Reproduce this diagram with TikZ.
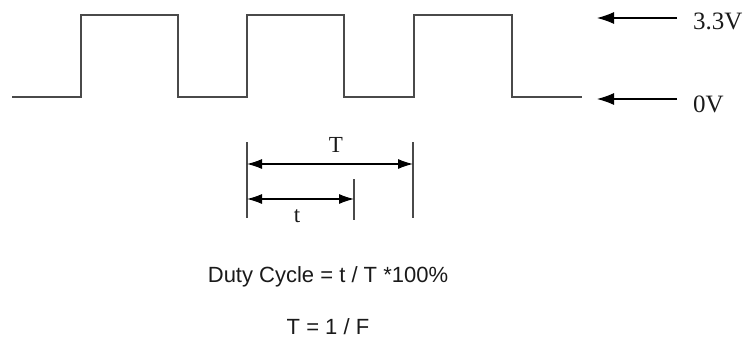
\documentclass[tikz,border=0pt]{standalone}
\usepackage{fontspec}
\setmainfont{Liberation Serif}
\setsansfont{Liberation Sans}
\usepackage{tikz}
\usetikzlibrary{arrows.meta, positioning}
\definecolor{traceline}{HTML}{4A4A4A}
\definecolor{darktext}{HTML}{1A1A1A}

\begin{document}
\begin{tikzpicture}[
  x=1pt, y=-1pt,
  every node/.style={inner sep=0pt, text=darktext},
  trace/.style={draw=traceline, line width=1.4pt},
  tickline/.style={draw=traceline, line width=1.2pt},
  marker/.style={-{Latex[length=17pt, width=12pt]}, line width=1.1pt, color=black},
  dimline/.style={{Latex[length=15pt, width=10pt]}-{Latex[length=15pt, width=10pt]}, line width=1.1pt, color=black},
  level/.style={font=\fontsize{25}{28}\selectfont, anchor=west},
  dimlabel/.style={font=\fontsize{23}{26}\selectfont},
  formula/.style={font=\sffamily\fontsize{22}{25}\selectfont}
]
\useasboundingbox (0,0) rectangle (749,353);

% === Square wave ===
\draw[trace] (12,97) -- (81,97) -- (81,15) -- (178,15) -- (178,97)
  -- (247,97) -- (247,15) -- (344,15) -- (344,97)
  -- (414,97) -- (414,15) -- (512,15) -- (512,97) -- (582,97);

% === Level markers ===
\node[level] (vhigh) at (693,21) {3.3V};
\node[level] (vlow) at (693,104) {0V};
\coordinate (hightip) at (597,18);
\coordinate (lowtip) at (597,99);
\draw[marker] ([xshift=-16pt]vhigh.west |- hightip) -- (hightip);
\draw[marker] ([xshift=-16pt]vlow.west |- lowtip) -- (lowtip);

% === Period / pulse width ticks ===
\draw[tickline] (247,142) coordinate (ltop) -- (247,218) coordinate (lbot);
\draw[tickline] (413,142) coordinate (rtop) -- (413,218) coordinate (rbot);
\draw[tickline] (354,179) coordinate (mtop) -- (354,220) coordinate (mbot);

\coordinate (Tstart) at (247,164);
\coordinate (Tend) at (413,164);
\coordinate (tstart) at (247,199);
\coordinate (tend) at (354,199);
\draw[dimline] (Tstart) -- (Tend);
\draw[dimline] (tstart) -- (tend);

\node[dimlabel] (Tlabel) at (336,145) {T};
\node[dimlabel] (tlabel) at (297,216) {t};

% === Formulas ===
\node[formula] (duty) at (328,277) {Duty Cycle = t / T *100\%};
\node[formula, below=50pt of duty.center, anchor=center] (period) {T = 1 / F};
\end{tikzpicture}
\end{document}
